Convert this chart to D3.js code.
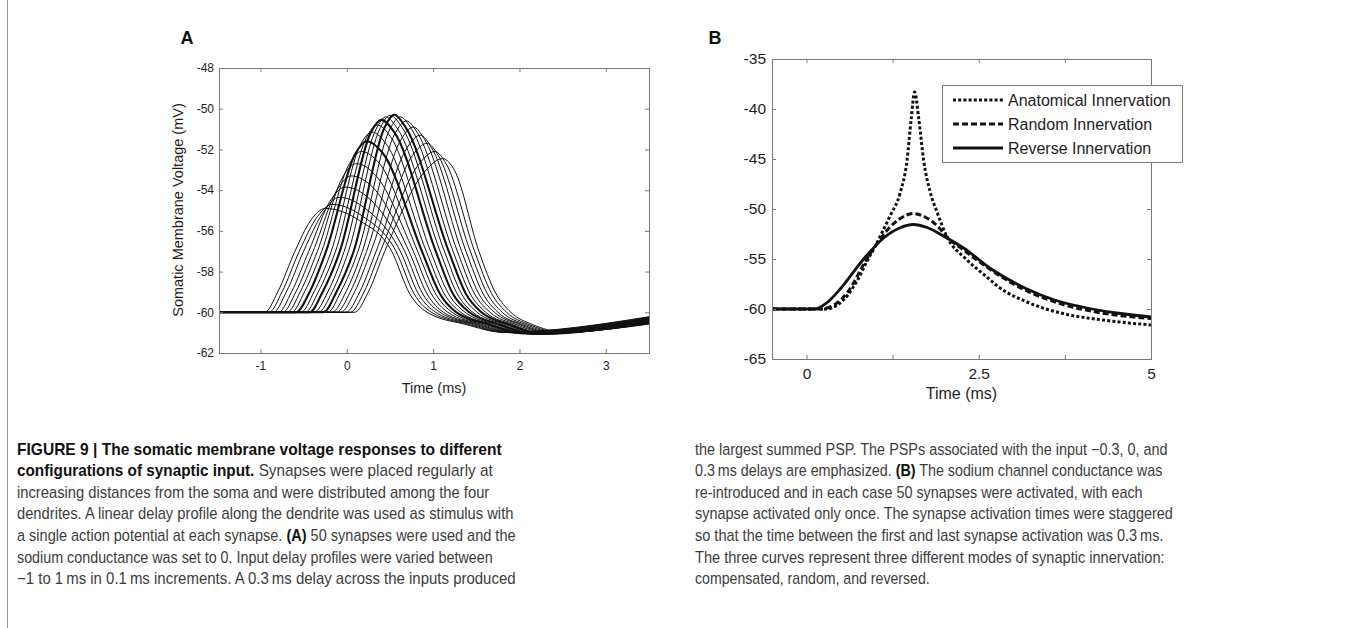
<!DOCTYPE html>
<html>
<head>
<meta charset="utf-8">
<script src="https://cdn.jsdelivr.net/npm/d3@7"></script>
<style>
  body { margin: 0; background: #fff; }
  svg { display: block; font-family: "Liberation Sans", Arial, Helvetica, sans-serif; }
</style>
</head>
<body>
<script>
// ---------------- Panel A data (21 PSPs, input delay -1 ... 1 ms) ----------------
const delaysA = [-1,-0.9,-0.8,-0.7,-0.6,-0.5,-0.4,-0.3,-0.2,-0.1,0,0.1,0.2,0.3,0.4,0.5,0.6,0.7,0.8,0.9,1];
const emphasizedA = [-0.3, 0, 0.3];
const onsetT        = [-0.95,-0.90,-0.85,-0.79,-0.74,-0.69,-0.64,-0.59,-0.53,-0.48,-0.43,-0.38,-0.33,-0.27,-0.22,-0.17,-0.12,-0.07,-0.01,0.04,0.09];
const rise59T       = [-0.80,-0.75,-0.70,-0.64,-0.59,-0.54,-0.49,-0.43,-0.38,-0.33,-0.28,-0.22,-0.17,-0.12,-0.07,-0.01,0.04,0.09,0.15,0.20,0.25];
const rise57T       = [-0.60,-0.55,-0.50,-0.44,-0.39,-0.34,-0.29,-0.24,-0.18,-0.13,-0.08,-0.03,0.02,0.08,0.13,0.18,0.23,0.28,0.34,0.39,0.44];
const riseShoulderT = [-0.42,-0.34,-0.25,-0.18,-0.10,-0.04,0.03,0.10,0.16,0.23,0.28,0.34,0.39,0.44,0.50,0.56,0.63,0.70,0.76,0.84,0.91];
const peakT         = [-0.25,-0.17,-0.09,-0.02,0.05,0.11,0.17,0.23,0.29,0.35,0.40,0.45,0.50,0.55,0.62,0.69,0.77,0.85,0.93,1.02,1.11];
const peakV         = [-54.9,-54.7,-54.35,-53.85,-53.3,-52.7,-52.1,-51.6,-51.15,-50.8,-50.55,-50.4,-50.32,-50.3,-50.4,-50.6,-50.9,-51.3,-51.7,-52.1,-52.45];
const shoulderV     = [-55.5,-55.3,-54.95,-54.45,-53.9,-53.3,-52.7,-52.2,-51.75,-51.4,-51.15,-51.0,-50.92,-50.9,-51.0,-51.2,-51.5,-51.9,-52.3,-52.7,-53.05];
const fallShoulderT = [0.15,0.19,0.23,0.27,0.31,0.34,0.38,0.42,0.46,0.51,0.55,0.59,0.64,0.68,0.75,0.82,0.90,0.98,1.06,1.15,1.25];
const fall57T       = [0.52,0.57,0.62,0.67,0.72,0.77,0.82,0.87,0.92,0.97,1.03,1.08,1.13,1.18,1.23,1.28,1.33,1.38,1.43,1.48,1.53];
const fall591T      = [0.73,0.78,0.83,0.88,0.93,0.98,1.03,1.08,1.13,1.18,1.23,1.28,1.33,1.38,1.43,1.48,1.53,1.58,1.63,1.68,1.73];
const fall60T       = [0.93,0.98,1.03,1.08,1.12,1.17,1.22,1.27,1.32,1.37,1.42,1.46,1.51,1.56,1.61,1.66,1.71,1.75,1.80,1.85,1.90];
const fall606T      = [1.38,1.42,1.46,1.50,1.53,1.57,1.61,1.65,1.69,1.73,1.77,1.80,1.84,1.88,1.92,1.96,2.00,2.03,2.07,2.11,2.15];
const troughT       = [1.80,1.84,1.87,1.91,1.94,1.98,2.01,2.05,2.08,2.12,2.15,2.19,2.22,2.26,2.29,2.33,2.36,2.40,2.43,2.47,2.50];
const troughV       = [-60.98,-60.99,-61.0,-61.0,-61.01,-61.02,-61.03,-61.04,-61.05,-61.05,-61.06,-61.06,-61.06,-61.06,-61.05,-61.04,-61.03,-61.02,-61.0,-60.98,-60.96];
const endV          = [-60.22,-60.24,-60.26,-60.27,-60.29,-60.31,-60.33,-60.35,-60.36,-60.38,-60.40,-60.42,-60.44,-60.45,-60.47,-60.49,-60.51,-60.53,-60.54,-60.56,-60.58];
// fixed voltage levels at which the crossing times above were read
const restV = -60, lvl59 = -59, lvl57 = -57, lvl591 = -59.1, lvl606 = -60.6;

const xDomainA = [-1.48, 3.5];
const yDomainA = [-62, -48];
const xTicksA = [-1, 0, 1, 2, 3];
const yTicksA = [-62, -60, -58, -56, -54, -52, -50, -48];

// ---------------- Panel B data ----------------
const seriesNamesB = ["Anatomical Innervation", "Random Innervation", "Reverse Innervation"];
const anatomicalT = [-0.5,0.28,0.45,0.6,0.75,0.88,1.0,1.1,1.22,1.36,1.46,1.52,1.57,1.63,1.70,1.80,1.90,2.04,2.3,2.6,2.81,3.2,3.75,4.3,5.0];
const anatomicalV = [-60,-60,-59.6,-58.6,-57.0,-55.2,-53.7,-52.3,-50.6,-48.4,-45.1,-41.0,-38.3,-41.0,-45.1,-48.4,-50.4,-52.8,-54.9,-56.7,-57.9,-59.3,-60.5,-61.1,-61.6];
const randomT = [-0.5,0.2,0.4,0.6,0.85,1.05,1.2,1.35,1.55,1.72,1.9,2.04,2.3,2.7,3.2,3.7,4.2,5.0];
const randomV = [-60,-60,-59.6,-58.3,-55.3,-53.2,-51.9,-51.0,-50.45,-50.8,-51.7,-52.8,-54.2,-56.2,-58.2,-59.5,-60.3,-60.95];
const reverseT = [-0.5,0.12,0.3,0.49,0.83,1.12,1.35,1.55,1.75,2.0,2.28,2.67,3.2,3.6,4.0,4.5,5.0];
const reverseV = [-60,-60,-59.35,-58.0,-55.0,-52.9,-51.9,-51.55,-51.85,-52.75,-53.9,-55.95,-58.0,-59.1,-59.8,-60.4,-60.8];

const xDomainB = [-0.5, 5];
const yDomainB = [-65, -35];
const xTicksB = [0, 1.25, 2.5, 3.75, 5];
const xTickLabelsB = ["0", "", "2.5", "", "5"];
const yTicksB = [-65, -60, -55, -50, -45, -40, -35];

// ---------------- Caption ----------------
const captionLeft = [
  [["FIGURE 9 | The somatic membrane voltage responses to different", true]],
  [["configurations of synaptic input.", true], [" Synapses were placed regularly at", false]],
  [["increasing distances from the soma and were distributed among the four", false]],
  [["dendrites. A linear delay profile along the dendrite was used as stimulus with", false]],
  [["a single action potential at each synapse. ", false], ["(A)", true], [" 50 synapses were used and the", false]],
  [["sodium conductance was set to 0. Input delay profiles were varied between", false]],
  [["\u22121 to 1\u2009ms in 0.1\u2009ms increments. A 0.3\u2009ms delay across the inputs produced", false]]
];
const captionLeftWidths = [485, 476, 473, 497, 499, 476, 499];
const captionRight = [
  [["the largest summed PSP. The PSPs associated with the input \u22120.3, 0, and", false]],
  [["0.3\u2009ms delays are emphasized. ", false], ["(B)", true], [" The sodium channel conductance was", false]],
  [["re-introduced and in each case 50 synapses were activated, with each", false]],
  [["synapse activated only once. The synapse activation times were staggered", false]],
  [["so that the time between the first and last synapse activation was 0.3\u2009ms.", false]],
  [["The three curves represent three different modes of synaptic innervation:", false]],
  [["compensated, random, and reversed.", false]]
];
const captionRightWidths = [473, 468, 448, 478, 469, 470, 235];

// ======================================================================
const W = 1354, H = 628;
const svg = d3.select("body").append("svg").attr("width", W).attr("height", H);

// thin rule at the left edge of the figure box
svg.append("line").attr("x1", 7.5).attr("x2", 7.5).attr("y1", 0).attr("y2", H)
  .attr("stroke", "#9a9a9a").attr("stroke-width", 1);

const axisColor = "#7a7a7a";
const textColor = "#1e1e1e";

function boxAxes(g, x, y, o) {
  const [x0, x1] = x.range();
  const [y0, y1] = y.range(); // y0 bottom, y1 top
  const fmt = o.xLabels ? ((d, i) => o.xLabels[i]) : (d => String(d));
  const gb = g.append("g").attr("transform", `translate(0,${y0})`)
    .call(d3.axisBottom(x).tickValues(o.xTicks).tickSizeInner(-4).tickSizeOuter(0)
      .tickPadding(o.xPad).tickFormat(fmt));
  const gt = g.append("g").attr("transform", `translate(0,${y1})`)
    .call(d3.axisTop(x).tickValues(o.xTicks).tickSizeInner(-4).tickSizeOuter(0).tickFormat(""));
  const gl = g.append("g").attr("transform", `translate(${x0},0)`)
    .call(d3.axisLeft(y).tickValues(o.yTicks).tickSizeInner(-4).tickSizeOuter(0)
      .tickPadding(o.yPad).tickFormat(d => String(d)));
  const gr = g.append("g").attr("transform", `translate(${x1},0)`)
    .call(d3.axisRight(y).tickValues(o.yTicks).tickSizeInner(-4).tickSizeOuter(0).tickFormat(""));
  [gb, gt, gl, gr].forEach(a => {
    a.select(".domain").remove();
    a.selectAll(".tick line").attr("stroke", axisColor);
    a.selectAll(".tick text").attr("fill", textColor)
      .style("font-size", o.fontSize + "px").style("font-family", '"Liberation Sans", Arial, sans-serif');
  });
  g.append("rect").attr("x", x0 + 0.5).attr("y", y1 + 0.5)
    .attr("width", x1 - x0).attr("height", y0 - y1)
    .attr("fill", "none").attr("stroke", axisColor).attr("stroke-width", 1);
}

// ---------------- Panel A ----------------
const gA = svg.append("g");
const xA = d3.scaleLinear().domain(xDomainA).range([219, 649]);
const yA = d3.scaleLinear().domain(yDomainA).range([353, 68]);

const defs = svg.append("defs");
defs.append("clipPath").attr("id", "clipA")
  .append("rect").attr("x", 219).attr("y", 68).attr("width", 430).attr("height", 285);

const lineA = d3.line().x(d => xA(d[0])).y(d => yA(d[1])).curve(d3.curveMonotoneX);
const curvesA = delaysA.map((dl, i) => ({
  delay: dl,
  pts: [
    [xDomainA[0], restV], [onsetT[i], restV], [rise59T[i], lvl59], [rise57T[i], lvl57],
    [riseShoulderT[i], shoulderV[i]], [peakT[i], peakV[i]], [fallShoulderT[i], shoulderV[i]],
    [fall57T[i], lvl57], [fall591T[i], lvl591], [fall60T[i], restV], [fall606T[i], lvl606],
    [troughT[i], troughV[i]], [xDomainA[1], endV[i]]
  ]
}));
gA.append("g").attr("clip-path", "url(#clipA)")
  .selectAll("path").data(curvesA).join("path")
  .attr("d", d => lineA(d.pts))
  .attr("fill", "none").attr("stroke", "#111")
  .attr("stroke-width", d => emphasizedA.some(e => Math.abs(e - d.delay) < 1e-9) ? 2.1 : 1)
  .attr("stroke-linejoin", "round");

boxAxes(gA, xA, yA, { xTicks: xTicksA, yTicks: yTicksA, xPad: 8, yPad: 5, fontSize: 12 });

gA.append("text").attr("x", 434).attr("y", 393).attr("text-anchor", "middle")
  .attr("fill", textColor).style("font-size", "14.5px").text("Time (ms)");
gA.append("text").attr("transform", "translate(183,210) rotate(-90)").attr("text-anchor", "middle")
  .attr("fill", textColor).style("font-size", "14.5px").text("Somatic Membrane Voltage (mV)");
svg.append("text").attr("x", 187).attr("y", 43.5).attr("text-anchor", "middle")
  .style("font-size", "18px").style("font-weight", "bold").attr("fill", "#111").text("A");

// ---------------- Panel B ----------------
const gB = svg.append("g");
const xB = d3.scaleLinear().domain(xDomainB).range([772, 1151]);
const yB = d3.scaleLinear().domain(yDomainB).range([359, 59]);
defs.append("clipPath").attr("id", "clipB")
  .append("rect").attr("x", 772).attr("y", 59).attr("width", 379).attr("height", 300);

const seriesB = [
  { name: seriesNamesB[0], t: anatomicalT, v: anatomicalV, dash: "3,2.2", width: 3 },
  { name: seriesNamesB[1], t: randomT, v: randomV, dash: "6,3", width: 3 },
  { name: seriesNamesB[2], t: reverseT, v: reverseV, dash: null, width: 2.8 }
];
const lineB = d3.line().x(d => xB(d[0])).y(d => yB(d[1])).curve(d3.curveMonotoneX);
gB.append("g").attr("clip-path", "url(#clipB)")
  .selectAll("path").data(seriesB).join("path")
  .attr("d", s => lineB(s.t.map((t, i) => [t, s.v[i]])))
  .attr("fill", "none").attr("stroke", "#111").attr("stroke-width", s => s.width)
  .attr("stroke-dasharray", s => s.dash);

boxAxes(gB, xB, yB, { xTicks: xTicksB, xLabels: xTickLabelsB, yTicks: yTicksB, xPad: 9, yPad: 6, fontSize: 15.5 });

gB.append("text").attr("x", 961.5).attr("y", 399).attr("text-anchor", "middle")
  .attr("fill", textColor).style("font-size", "16px").text("Time (ms)");
svg.append("text").attr("x", 715).attr("y", 43.5).attr("text-anchor", "middle")
  .style("font-size", "18px").style("font-weight", "bold").attr("fill", "#111").text("B");

// legend
const lg = gB.append("g");
lg.append("rect").attr("x", 942.5).attr("y", 85.5).attr("width", 240).attr("height", 77)
  .attr("fill", "#fff").attr("stroke", axisColor).attr("stroke-width", 1);
seriesB.forEach((s, i) => {
  const yy = 100 + i * 24;
  lg.append("line").attr("x1", 953).attr("x2", 1003).attr("y1", yy).attr("y2", yy)
    .attr("stroke", "#111").attr("stroke-width", s.width).attr("stroke-dasharray", s.dash);
  lg.append("text").attr("x", 1008).attr("y", yy + 5.5).attr("fill", textColor)
    .style("font-size", "16px").text(s.name);
});

// ---------------- Caption ----------------
// each line is laid out naturally, then squeezed horizontally as a whole
// so that it spans the same width as in the (condensed-font) original
function caption(lines, widths, x0) {
  lines.forEach((segs, k) => {
    const g = svg.append("g");
    const t = g.append("text").attr("x", 0).attr("y", 0).style("font-size", "16px");
    segs.forEach(([str, bold]) => {
      t.append("tspan").text(str)
        .attr("fill", bold ? "#111" : "#3c3c3c")
        .style("font-weight", bold ? "bold" : "normal");
    });
    const natural = t.node().getComputedTextLength() || widths[k];
    const sx = widths[k] / natural;
    g.attr("transform", `translate(${x0},${454.5 + k * 21.6}) scale(${sx},1)`);
  });
}
caption(captionLeft, captionLeftWidths, 17);
caption(captionRight, captionRightWidths, 695);
</script>
</body>
</html>
